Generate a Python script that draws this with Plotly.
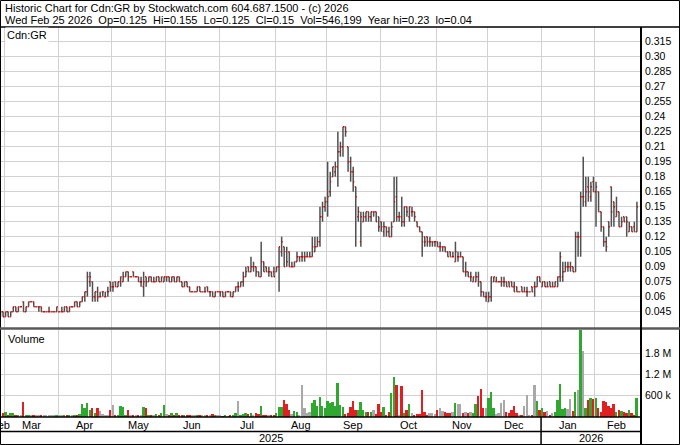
import pandas as pd
import plotly.graph_objects as go

# ---------------- data ----------------
holidays = ["2025-04-18", "2025-05-19", "2025-07-01", "2025-08-04", "2025-09-01",
            "2025-10-13", "2025-12-25", "2025-12-26", "2026-01-01", "2026-02-16"]
dates = pd.bdate_range("2025-02-26", "2026-02-25", freq="C", holidays=holidays)

opens = [
    .045, .040, .045,  # Feb
    .040, .045, .040, .045, .050, .045, .050, .055, .045, .050, .055, .055, .050, .050, .050, .045, .045, .045, .045, .045, .045,  # Mar
    .045, .045, .045, .050, .045, .050, .050, .055, .050, .055, .060, .065, .075, .075, .060, .065, .060, .065, .060, .065, .075,  # Apr
    .070, .075, .070, .075, .075, .080, .085, .080, .085, .080, .080, .075, .070, .080, .075, .080, .075, .075, .080, .075, .075,  # May
    .080, .080, .075, .080, .075, .080, .075, .070, .075, .070, .065, .065, .065, .070, .065, .065, .070, .065, .065, .060, .065,  # Jun
    .065, .065, .060, .065, .065, .060, .065, .070, .070, .075, .080, .090, .085, .090, .090, .085, .080, .095, .090, .085, .085, .085,  # Jul
    .085, .090, .105, .110, .105, .105, .090, .090, .095, .100, .100, .100, .100, .100, .100, .105, .110, .115, .140, .150,  # Aug
    .155, .165, .180, .185, .190, .205, .210, .230, .210, .195, .185, .170, .140, .115, .135, .140, .145, .140, .145, .145, .140,  # Sep
    .135, .125, .130, .125, .120, .135, .160, .140, .140, .135, .150, .140, .145, .145, .135, .130, .125, .120, .120, .115, .115, .115,  # Oct
    .115, .110, .110, .110, .105, .105, .100, .095, .100, .100, .100, .085, .085, .080, .075, .075, .080, .075, .065, .060,  # Nov
    .055, .060, .075, .075, .075, .075, .075, .075, .075, .075, .070, .070, .065, .070, .065, .065, .065, .070, .070, .070, .080,  # Dec
    .070, .075, .070, .075, .070, .070, .070, .080, .080, .085, .090, .090, .090, .085, .120, .120, .160, .155, .170, .160, .175,  # Jan
    .165, .165, .145, .130, .115, .135, .170, .155, .140, .145, .130, .140, .140, .125, .130, .130, .125,  # Feb
]
highs = [
    .045, .045, .045,
    .045, .045, .045, .050, .050, .050, .050, .055, .050, .055, .055, .055, .050, .050, .050, .045, .045, .050, .045, .045, .050,
    .045, .050, .050, .050, .050, .050, .055, .055, .055, .060, .065, .085, .085, .075, .065, .070, .065, .065, .065, .070, .075,
    .075, .075, .075, .080, .085, .085, .085, .080, .085, .080, .080, .080, .085, .080, .080, .080, .080, .080, .080, .080, .080,
    .080, .080, .080, .080, .080, .080, .075, .075, .075, .070, .065, .065, .070, .070, .065, .070, .070, .065, .065, .065, .065,
    .065, .065, .065, .065, .065, .065, .070, .075, .075, .085, .090, .090, .100, .095, .090, .085, .115, .095, .090, .090, .085, .090,
    .090, .110, .120, .110, .110, .105, .095, .095, .105, .100, .105, .105, .105, .105, .120, .120, .120, .150, .155, .160,
    .195, .185, .190, .195, .225, .215, .230, .230, .210, .200, .190, .170, .150, .145, .145, .145, .145, .145, .145, .145, .140,
    .135, .135, .130, .130, .135, .180, .180, .145, .160, .150, .150, .150, .150, .145, .135, .130, .125, .120, .120, .120, .115, .115,
    .115, .115, .110, .110, .105, .105, .105, .115, .105, .105, .100, .095, .085, .085, .080, .085, .085, .075, .065, .065,
    .065, .080, .080, .080, .075, .080, .080, .075, .075, .075, .075, .070, .065, .070, .070, .070, .065, .070, .075, .080, .080,
    .075, .075, .075, .075, .075, .075, .080, .105, .095, .095, .095, .095, .090, .125, .125, .165, .200, .180, .180, .175, .180,
    .175, .165, .145, .130, .120, .135, .170, .155, .160, .145, .140, .140, .140, .135, .130, .135, .155,
]
lows = [
    .040, .040, .040,
    .040, .040, .040, .045, .045, .045, .050, .045, .045, .050, .055, .050, .050, .045, .045, .045, .045, .045, .045, .045, .045,
    .045, .045, .045, .045, .045, .050, .050, .050, .050, .055, .055, .060, .070, .055, .055, .055, .060, .060, .060, .060, .065,
    .065, .070, .070, .070, .075, .080, .075, .080, .080, .080, .075, .070, .060, .070, .075, .075, .075, .075, .075, .075, .075,
    .075, .075, .075, .075, .075, .075, .070, .070, .070, .065, .065, .065, .065, .065, .065, .065, .065, .060, .060, .060, .065,
    .060, .060, .060, .065, .060, .060, .065, .065, .070, .070, .080, .085, .085, .085, .080, .080, .080, .085, .085, .080, .080, .080,
    .085, .065, .100, .090, .090, .090, .090, .090, .095, .095, .095, .095, .100, .100, .100, .105, .110, .110, .135, .145,
    .140, .160, .180, .180, .170, .200, .200, .220, .185, .175, .165, .110, .135, .110, .135, .135, .135, .135, .140, .135, .125,
    .125, .120, .120, .120, .120, .135, .135, .135, .130, .130, .140, .135, .140, .135, .130, .125, .100, .110, .110, .110, .110, .110,
    .110, .105, .105, .105, .100, .100, .100, .095, .095, .100, .085, .080, .080, .075, .075, .075, .070, .060, .060, .055,
    .055, .055, .075, .075, .075, .070, .070, .070, .070, .070, .065, .065, .065, .065, .065, .060, .065, .065, .060, .070, .075,
    .070, .070, .070, .070, .070, .070, .070, .075, .075, .085, .085, .085, .085, .085, .100, .100, .150, .150, .155, .155, .165,
    .130, .145, .125, .110, .105, .120, .130, .130, .140, .130, .130, .135, .120, .125, .125, .125, .125,
]
closes = [
    .040, .045, .040,
    .045, .040, .045, .050, .045, .050, .050, .045, .050, .055, .055, .050, .050, .050, .045, .045, .045, .045, .045, .045, .050,
    .045, .045, .050, .045, .050, .050, .055, .050, .055, .060, .065, .080, .080, .060, .065, .060, .060, .065, .060, .065, .070,
    .070, .070, .075, .080, .080, .085, .080, .080, .080, .080, .075, .075, .075, .075, .080, .075, .075, .080, .075, .080, .080,
    .080, .075, .080, .075, .080, .075, .070, .075, .070, .065, .065, .065, .070, .065, .065, .065, .065, .065, .060, .065, .065,
    .065, .060, .065, .065, .060, .065, .070, .070, .075, .080, .085, .085, .090, .090, .085, .080, .095, .085, .085, .085, .080, .080,
    .090, .110, .115, .090, .095, .090, .090, .095, .100, .100, .100, .100, .100, .100, .110, .110, .115, .140, .150, .155,
    .160, .175, .190, .190, .205, .210, .230, .225, .195, .185, .175, .160, .145, .140, .140, .145, .140, .145, .145, .135, .130,
    .130, .130, .125, .120, .130, .155, .140, .140, .135, .150, .145, .150, .145, .140, .130, .125, .115, .115, .115, .115, .115, .115,
    .110, .110, .110, .105, .100, .100, .100, .105, .100, .100, .085, .085, .080, .080, .080, .080, .075, .065, .060, .060,
    .060, .080, .080, .075, .075, .075, .075, .070, .070, .070, .065, .065, .065, .065, .065, .065, .065, .065, .070, .080, .075,
    .075, .070, .070, .070, .070, .075, .080, .100, .085, .090, .090, .090, .085, .120, .120, .160, .160, .165, .165, .170, .165,
    .170, .145, .130, .115, .110, .130, .145, .150, .145, .130, .135, .135, .135, .130, .125, .125, .150,
]
volume_k = [
    60, 50, 100,
    150, 60, 120, 100, 40, 50, 30, 420, 60, 40, 30, 50, 40, 60, 50, 40, 30, 40, 50, 30, 40,
    40, 30, 40, 30, 50, 40, 60, 50, 80, 360, 240, 400, 200, 240, 100, 240, 160, 80, 60, 70, 210,
    330, 70, 60, 300, 280, 60, 190, 50, 70, 40, 50, 60, 290, 240, 70, 60, 50, 80, 60, 100, 350,
    80, 60, 100, 70, 120, 60, 40, 50, 60, 40, 50, 60, 40, 70, 50, 40, 60, 70, 80, 60, 50,
    30, 20, 30, 20, 30, 40, 100, 450, 60, 80, 120, 80, 100, 70, 120, 80, 320, 60, 40, 30, 40, 50,
    100, 270, 290, 470, 360, 190, 80, 170, 150, 60, 910, 240, 120, 150, 400, 490, 300, 560, 300, 250,
    450, 400, 420, 300, 950, 330, 280, 80, 100, 290, 450, 190, 200, 415, 190, 150, 150, 140, 190, 80, 380,
    140, 270, 50, 150, 690, 1140, 900, 60, 880, 100, 210, 380, 100, 60, 80, 80, 775, 150, 70, 120, 100, 80,
    190, 260, 175, 130, 100, 120, 150, 400, 360, 380, 120, 150, 120, 150, 100, 360, 580, 790, 260, 240,
    545, 700, 240, 75, 100, 400, 490, 150, 120, 190, 320, 120, 60, 60, 320, 610, 60, 30, 900, 450, 190,
    250, 140, 170, 60, 100, 140, 470, 930, 230, 250, 230, 500, 170, 700, 750, 2450, 1850, 240, 470, 545, 520,
    535, 240, 150, 450, 425, 305, 240, 360, 150, 195, 175, 150, 120, 195, 100, 55, 546.199,
]

price_ticks = [0.045, 0.06, 0.075, 0.09, 0.105, 0.12, 0.135, 0.15, 0.165, 0.18, 0.195,
               0.21, 0.225, 0.24, 0.255, 0.27, 0.285, 0.30, 0.315]
price_labels = ["0.045", "0.06", "0.075", "0.09", "0.105", "0.12", "0.135", "0.15", "0.165", "0.18",
                "0.195", "0.21", "0.225", "0.24", "0.255", "0.27", "0.285", "0.30", "0.315"]
vol_ticks = [600, 1200, 1800]
vol_labels = ["600 k", "1.2 M", "1.8 M"]

header1 = "Historic Chart for Cdn:GR by Stockwatch.com 604.687.1500 - (c) 2026"
header2 = ("Wed Feb 25 2026 \u00a0Op=0.125 \u00a0Hi=0.155 \u00a0Lo=0.125 \u00a0Cl=0.15 "
           "\u00a0Vol=546,199 \u00a0Year hi=0.23 \u00a0lo=0.04")

n = len(dates)
for arr in (opens, highs, lows, closes, volume_k):
    assert len(arr) == n, (len(arr), n)

idx = list(range(n))

# month boundaries / labels from the dates
bounds, mlabels, mcenters = [], [], []
groups = {}
for i, d in enumerate(dates):
    groups.setdefault((d.year, d.month), []).append(i)
    if i > 0 and d.month != dates[i - 1].month:
        bounds.append(i - 0.5)
for (yy, mm), ii in groups.items():
    mlabels.append(pd.Timestamp(year=yy, month=mm, day=1).strftime("%b"))
    mcenters.append(sum(ii) / len(ii))
year_bound = [i - 0.5 for i, d in enumerate(dates) if i > 0 and d.year != dates[i - 1].year][0]

# ---------------- style / layout ----------------
W, H = 680, 445
ML, MR, MT, MB = 1, 39, 27, 28
PW, PH = W - ML - MR, H - MT - MB
FONT = "Liberation Sans, Arial, sans-serif"
GRID = "#d2d2d2"
XR = [1.2, 251.6]
TICK = 0.4  # tick length in day units


def px(x):
    return (x - ML) / PW


def py(y):
    return (H - MB - y) / PH


def xdata_to_paper(v):
    return (v - XR[0]) / (XR[1] - XR[0])


vol_colors = ["#2fa82f" if c > o else ("#e02020" if c < o else "#a8a8a8")
              for o, c in zip(opens, closes)]

# open (left) and close (right) tick segments built from the data
tx, ty = [], []
for i, o, c in zip(idx, opens, closes):
    tx += [i - TICK, i, None, i, i + TICK, None]
    ty += [o, o, None, c, c, None]

fig = go.Figure()
# grey high-low stems
fig.add_trace(go.Ohlc(
    x=idx, open=opens, high=highs, low=lows, close=closes,
    increasing=dict(line=dict(color="#505050", width=1.5)),
    decreasing=dict(line=dict(color="#505050", width=1.5)),
    tickwidth=0, xaxis="x", yaxis="y", hoverinfo="skip", showlegend=False))
# red open / close ticks
fig.add_trace(go.Scatter(
    x=tx, y=ty, mode="lines", line=dict(color="#d00000", width=1.4),
    xaxis="x", yaxis="y", hoverinfo="skip", showlegend=False, connectgaps=False))
fig.add_trace(go.Bar(
    x=idx, y=volume_k, marker=dict(color=vol_colors, line=dict(width=0)),
    width=0.72, xaxis="x2", yaxis="y2", hoverinfo="skip", showlegend=False))

axis_common = dict(showline=False, zeroline=False, ticks="", fixedrange=True)
price_bottom = py(328)
vol_top = py(329)

fig.update_layout(
    width=W, height=H,
    margin=dict(l=ML, r=MR, t=MT, b=MB, pad=0),
    paper_bgcolor="white", plot_bgcolor="white",
    font=dict(family=FONT, size=11, color="black"),
    showlegend=False, bargap=0,
    xaxis=dict(domain=[0, 1], anchor="y", range=XR, tickmode="array", tickvals=bounds,
               showticklabels=False, showgrid=True, gridcolor=GRID, gridwidth=1,
               rangeslider=dict(visible=False), **axis_common),
    xaxis2=dict(domain=[0, 1], anchor="y2", range=XR, matches="x", tickmode="array",
                tickvals=bounds, showticklabels=False, showgrid=True, gridcolor=GRID,
                gridwidth=1, **axis_common),
    yaxis=dict(domain=[price_bottom, 1], anchor="x", side="right",
               range=[0.0287, 0.3297], tickmode="array", tickvals=price_ticks,
               ticktext=price_labels, showgrid=True, gridcolor=GRID, gridwidth=1,
               tickfont=dict(size=10.5, family=FONT), ticklabelstandoff=3, **axis_common),
    yaxis2=dict(domain=[0, vol_top], anchor="x2", side="right", range=[0, 2480],
                tickmode="array", tickvals=vol_ticks, ticktext=vol_labels,
                showgrid=True, gridcolor=GRID, gridwidth=1,
                tickfont=dict(size=10.5, family=FONT), ticklabelstandoff=3, **axis_common),
)

ann = []
ann.append(dict(text=header1, x=px(3), y=py(8), xref="paper", yref="paper",
                xanchor="left", yanchor="middle", showarrow=False, font=dict(size=11)))
ann.append(dict(text=header2, x=px(3), y=py(19.5), xref="paper", yref="paper",
                xanchor="left", yanchor="middle", showarrow=False, font=dict(size=11)))
ann.append(dict(text="Cdn:GR", x=px(5), y=py(35), xref="paper", yref="paper",
                xanchor="left", yanchor="middle", showarrow=False, font=dict(size=11),
                bgcolor="white", borderpad=1))
ann.append(dict(text="Volume", x=px(6), y=py(339), xref="paper", yref="paper",
                xanchor="left", yanchor="middle", showarrow=False, font=dict(size=11)))
for lab, cx in zip(mlabels, mcenters):
    ann.append(dict(text=lab, x=xdata_to_paper(cx), y=py(424.5), xref="paper", yref="paper",
                    xanchor="center", yanchor="middle", showarrow=False, font=dict(size=11)))
ann.append(dict(text="2025", x=xdata_to_paper((XR[0] + year_bound) / 2), y=py(438),
                xref="paper", yref="paper", xanchor="center", yanchor="middle",
                showarrow=False, font=dict(size=11)))
ann.append(dict(text="2026", x=xdata_to_paper((year_bound + XR[1]) / 2), y=py(438),
                xref="paper", yref="paper", xanchor="center", yanchor="middle",
                showarrow=False, font=dict(size=11)))
fig.update_layout(annotations=ann)

shapes = []


def hline(y, x0, x1, color="black", w=1.5):
    shapes.append(dict(type="line", xref="paper", yref="paper", x0=px(x0), x1=px(x1),
                       y0=py(y), y1=py(y), line=dict(color=color, width=w)))


def vline(x, y0, y1, color="black", w=1.5):
    shapes.append(dict(type="line", xref="paper", yref="paper", x0=px(x), x1=px(x),
                       y0=py(y0), y1=py(y1), line=dict(color=color, width=w)))


shapes.append(dict(type="rect", xref="paper", yref="paper", x0=px(0.5), x1=px(679.5),
                   y0=py(0.5), y1=py(444.5), line=dict(color="black", width=1)))
hline(27, 0, 680)
hline(328.5, 0, 680, color="#5a5a5a", w=2.5)
hline(417, 0, 641)
hline(431.5, 0, 641)
vline(641, 27, 445, w=2)
shapes.append(dict(type="line", xref="x2", yref="paper", x0=year_bound, x1=year_bound,
                   y0=py(417), y1=py(445), line=dict(color="black", width=1.5)))
fig.update_layout(shapes=shapes)

fig.write_html("out.html", config={"displayModeBar": False},
               post_script="document.body.style.margin='0';document.body.style.overflow='hidden';")
